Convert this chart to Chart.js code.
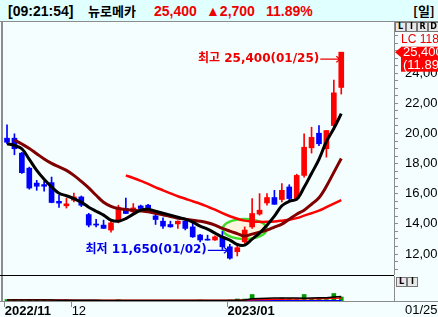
<!DOCTYPE html>
<html>
<head>
<meta charset="utf-8">
<script src="https://cdn.jsdelivr.net/npm/chart.js@4/dist/chart.umd.min.js"></script>
<style>
  body { margin: 0; background: #f5fefe; }
  #wrap { position: relative; width: 438px; height: 317px; overflow: hidden; background: #f5fefe; font-family: "Liberation Sans", Arial, sans-serif; }
  #title { position: absolute; left: 0; top: 0; width: 438px; height: 21px; background: #e0ffff; border-bottom: 1px solid #8c8c8c; }
  #title span { position: absolute; top: 3px; font: bold 14px "Liberation Sans", "DejaVu Sans", sans-serif; line-height: 16px; white-space: nowrap; }
  #title .red { color: #ee0000; }
  .abs { position: absolute; white-space: nowrap; }
  .btn { position: absolute; width: 9px; height: 8px; border: 1px solid #777; background: #e8e8e8; font: bold 8px "DejaVu Sans", sans-serif; line-height: 8px; text-align: center; color: #000; }
</style>
</head>
<body>
<div id="wrap">
  <div id="title">
    <span style="left:8px">[09:21:54]</span>
    <span style="left:88px;font-family:'Noto Sans CJK KR';font-size:13px">뉴로메카</span>
    <span class="red" style="left:154px">25,400</span>
    <span class="red" style="left:206px">▲2,700</span>
    <span class="red" style="left:266px">11.89%</span>
    <span style="left:413px;font-family:'Noto Sans CJK KR';font-size:13px">[일]</span>
  </div>

  <canvas id="price" class="abs" width="438" height="253" style="left:0;top:22px"></canvas>
  <canvas id="volume" class="abs" width="438" height="41" style="left:0;top:276px"></canvas>

  <div class="abs" style="left:1px;top:22px;width:2px;height:280px;background:#8c8c8c"></div>
  <div class="abs" style="left:0;top:275px;width:394px;height:1px;background:#000"></div>
  <div class="abs" style="left:0;top:301px;width:438px;height:1px;background:#8c8c8c"></div>

  <div class="btn" style="left:395px;top:22px">L</div>
  <div class="btn" style="left:406px;top:22px">I</div>
  <div class="btn" style="left:417px;top:22px">R</div>
  <div class="btn" style="left:428px;top:22px">D</div>
  <div class="abs" style="left:401px;top:33px;font-size:12px;line-height:13px;color:#ee0000">LC 118</div>

  <div class="btn" style="left:396px;top:277px">L</div>
  <div class="btn" style="left:407px;top:277px">I</div>
  <div class="abs" style="left:405px;top:303px;font-size:13px;line-height:14px;color:#000">01/25</div>
</div>

<script>
// 일봉 데이터 (2022/11/18 ~ 2023/01/25)
var dates = ['2022/11/18','2022/11/21','2022/11/22','2022/11/23','2022/11/24','2022/11/25','2022/11/28','2022/11/29','2022/11/30',
  '2022/12/01','2022/12/02','2022/12/05','2022/12/06','2022/12/07','2022/12/08','2022/12/09','2022/12/12','2022/12/13','2022/12/14',
  '2022/12/15','2022/12/16','2022/12/19','2022/12/20','2022/12/21','2022/12/22','2022/12/23','2022/12/26','2022/12/27','2022/12/28','2022/12/29',
  '2023/01/02','2023/01/03','2023/01/04','2023/01/05','2023/01/06','2023/01/09','2023/01/10','2023/01/11','2023/01/12','2023/01/13',
  '2023/01/16','2023/01/17','2023/01/18','2023/01/19','2023/01/20','2023/01/25'];

var open  = [19690,19690,18700,17700,16710,16610,16740,15500,15200, 15570,15790,14620,13990,13920,13590,14140,15020,14800,15190,
  15240,14530,14180,13960,14000,14180,13800,13260,12950,12930,13140, 12480,12150,12810,13800,14650,15390,15750,15620,16450,15680,
  17220,19050,20020,18990,20530,23060];
var high  = [20570,19980,18750,17770,16890,16850,17110,15900,15700, 16050,15850,14700,14310,14250,14170,15240,15720,15350,15250,
  15300,14800,14400,14180,14200,14250,14050,13300,13250,13200,13500, 12650,12660,13800,15680,16010,16010,16230,16670,16600,17300,
  19980,20420,20530,20200,23550,25400];
var low   = [19320,18590,17350,16300,16230,16170,15400,15100,15050, 15460,15150,13800,13800,13700,13450,14070,14690,14690,14920,
  14950,13960,13700,13780,13700,13600,13100,12800,12920,12900,12300, 11650,11870,12700,13700,14580,15240,15300,15460,15480,15570,
  17100,18700,19200,18430,20420,22620];
var close = [19420,18990,17400,16380,16500,16500,15420,15380,15330, 15790,15240,13920,13920,13700,14070,15090,14690,15060,15020,
  14960,14290,13850,13800,14180,13700,13140,12930,12920,13140,12480, 11720,12420,13590,14690,14910,15750,15300,16230,15680,17220,
  19090,19750,19320,20200,22700,25400];

// 이동평균선
var ma5  = [19317,19205,18987,18280,17552,16960,16450,16030,15870, 15680,15440,15110,14840,14580,14250,14180,14350,14645,14910,
  14975,14840,14710,14580,14445,14315,14115,13850,13650,13390,13124, 12925,12630,12595,12990,13390,13917,14510,15205,15500,15635,
  16430,17350,18280,19470,20330,21320];
var ma10 = [null,19570,19300,19007,18656,18310,18015,17780,17552, 17220,16825,16395,15900,15437,15170,15020,14955,14910,14860,
  14800,14710,14610,14480,14380,14315,14250,14180,14080,13917,13700, 13520,13355,13190,13320,13454,13586,13785,13983,14315,14645,
  14910,15305,15735,16495,17420,18345];
var ma20 = [null,null,null,null,null,null,null,null,null, null,null,null,null,null,null,null,17220,17045,16860,
  16660,16430,16230,16030,15835,15670,15500,15340,15140,14940,14710, 14510,14345,14215,14150,14135,14135,14160,14215,14280,14380,
  14545,14710,14875,15105,15340,15570];

// 거래량 (상대값)
var volume = [6,5,4,5,4,4,3,3,3, 3,2,3,2,2,2,5,2,2,2, 2,2,2,2,2,2,2,4,2,2,2, 4,8,8,26,8,6,6,12,8,6, 26,10,8,6,30,16];
var volMa5 = [4,4,4,4,4,4,4,3,3, 3,3,3,3,2,2,2,2,2,2, 2,2,2,2,2,2,2,2,2,2,2, 2,3,4,9,10,11,12,12,12,12, 11,12,13,13,16,18];
var volMa20 = [5,5,5,5,5,5,4,4,4, 3,3,3,3,3,3,3,3,3,3, 3,3,3,3,3,3,3,3,3,3,3, 3,3,4,5,6,6,7,7,8,8, 9,9,9,10,11,12];
var volBase = [null,null,null,null,null,null,null,null,null, 1,1,1,1,1,1,1,1,1,1, 1,1,1,1,1,1,1,1,1,1,1, 1,1,1,1,1,1,1,1,1,1, 1,1,1,1,1,1];

var yTicks = [12000, 14000, 16000, 18000, 20000, 22000, 24000];
var prevClose = 22700;
var ellipseAt = { index: 32, price: 13660 };

var X_MIN = -0.54, X_MAX = 52.1;
var UP = '#ff0000', DOWN = '#0000ff', AXIS = '#8c8c8c';

function fmt(v) { return v.toLocaleString('en-US'); }
function pts(arr) { return arr.map(function (v, i) { return { x: i, y: v }; }); }
function candleColor(i) { return close[i] > open[i] ? UP : DOWN; }

// 월 구분 틱
var monthTicks = [];
dates.forEach(function (d, i) {
  var p = d.split('/');
  if (i === 0 || p[1] !== dates[i - 1].split('/')[1]) {
    var yearChange = i === 0 || p[0] !== dates[i - 1].split('/')[0];
    monthTicks.push({ value: i - 0.3, label: yearChange ? p[0] + '/' + p[1] : String(+p[1]) });
  }
});

var annot = {
  id: 'annot',
  beforeDatasetsDraw: function (chart) {
    var ctx = chart.ctx, xs = chart.scales.x, ys = chart.scales.y;
    ctx.save();
    ctx.beginPath();
    ctx.ellipse(xs.getPixelForValue(ellipseAt.index), ys.getPixelForValue(ellipseAt.price), 22, 10, 0, 0, Math.PI * 2);
    ctx.fillStyle = 'rgba(255,243,220,0.9)';
    ctx.fill();
    ctx.lineWidth = 2.5;
    ctx.strokeStyle = '#3fdc2a';
    ctx.stroke();
    ctx.restore();
  },
  afterDraw: function (chart) {
    var ctx = chart.ctx, xs = chart.scales.x, ys = chart.scales.y, area = chart.chartArea;
    var hi = high.indexOf(Math.max.apply(null, high));
    var lo = low.indexOf(Math.min.apply(null, low));
    function mmdd(i) { var p = dates[i].split('/'); return p[1] + '/' + p[2]; }
    function label(text, color, tipX, y) {
      var startX = tipX - 20;
      ctx.fillStyle = color; ctx.strokeStyle = color;
      ctx.font = 'bold 12px "DejaVu Sans", "Noto Sans CJK KR"';
      ctx.textAlign = 'right'; ctx.textBaseline = 'middle';
      ctx.fillText(text, startX - 1, y);
      ctx.lineWidth = 1.2;
      ctx.beginPath();
      ctx.moveTo(startX, y); ctx.lineTo(tipX, y);
      ctx.moveTo(tipX - 4, y - 3); ctx.lineTo(tipX, y); ctx.lineTo(tipX - 4, y + 3);
      ctx.stroke();
    }
    ctx.save();
    label('최고 ' + fmt(high[hi]) + '(' + mmdd(hi) + ')', '#ee0000', xs.getPixelForValue(hi) - 1, ys.getPixelForValue(high[hi]) + 7);
    label('최저 ' + fmt(low[lo]) + '(' + mmdd(lo) + ')', '#0000ee', xs.getPixelForValue(lo) - 2, ys.getPixelForValue(low[lo]) - 9);

    // 현재가 표시
    var last = close.length - 1, py = ys.getPixelForValue(close[last]);
    var bx = area.right + 7;
    ctx.fillStyle = '#ff0000';
    ctx.beginPath();
    ctx.moveTo(area.right + 1, py); ctx.lineTo(bx, py - 5); ctx.lineTo(bx, py + 5); ctx.closePath();
    ctx.fill();
    ctx.fillRect(bx, py - 5.5, chart.width - bx, 25);
    ctx.fillStyle = '#ffffff';
    ctx.font = '13px "Liberation Sans"';
    ctx.textAlign = 'left'; ctx.textBaseline = 'middle';
    ctx.fillText(fmt(close[last]), bx + 2, py + 0.5);
    ctx.fillText('(' + ((close[last] - prevClose) / prevClose * 100).toFixed(2) + '%)', bx + 2, py + 13);
    ctx.restore();
  }
};

new Chart(document.getElementById('price'), {
  type: 'bar',
  data: {
    datasets: [
      { type: 'line', data: pts(ma5), borderColor: '#000000', borderWidth: 3, pointRadius: 0, tension: 0.35, order: 0 },
      { type: 'line', data: pts(ma10), borderColor: '#800000', borderWidth: 3, pointRadius: 0, tension: 0.35, order: 0 },
      { type: 'line', data: pts(ma20), borderColor: '#ff0000', borderWidth: 2.5, pointRadius: 0, tension: 0.35, order: 0 },
      {
        data: open.map(function (o, i) { return { x: i, y: [o, close[i]] }; }),
        backgroundColor: function (c) { return candleColor(c.dataIndex); },
        barThickness: 5, minBarLength: 1, grouped: false, order: 2
      },
      {
        data: low.map(function (l, i) { return { x: i, y: [l, high[i]] }; }),
        backgroundColor: function (c) { return candleColor(c.dataIndex); },
        barThickness: 1, grouped: false, order: 3
      }
    ]
  },
  options: {
    responsive: false,
    animation: false,
    layout: { padding: { left: 3, right: 0, top: 0, bottom: 0 } },
    plugins: { legend: { display: false }, tooltip: { enabled: false } },
    scales: {
      x: { type: 'linear', min: X_MIN, max: X_MAX, offset: false, display: false, grid: { offset: false } },
      y: {
        position: 'right',
        min: 10606, max: 27405,
        border: { color: AXIS },
        grid: { drawOnChartArea: false, drawTicks: true, tickLength: 4, color: AXIS },
        ticks: {
          autoSkip: false, padding: 7, color: '#000', font: { family: 'Liberation Sans', size: 13 },
          callback: function (v) { return yTicks.indexOf(v) >= 0 ? fmt(v) : ''; }
        },
        afterBuildTicks: function (s) {
          var t = [];
          for (var v = 11000; v <= 27000; v += 500) t.push({ value: v });
          s.ticks = t;
        },
        afterFit: function (s) { s.width = 44; s.paddingTop = 0; s.paddingBottom = 0; }
      }
    }
  },
  plugins: [annot]
});

new Chart(document.getElementById('volume'), {
  type: 'bar',
  data: {
    datasets: [
      { type: 'line', data: pts(volMa5), borderColor: '#000000', borderWidth: 1.5, pointRadius: 0, order: 0 },
      { type: 'line', data: pts(volMa20), borderColor: '#ff0000', borderWidth: 1.5, pointRadius: 0, order: 0 },
      { type: 'line', data: pts(volBase), borderColor: '#0000ff', borderWidth: 1.5, pointRadius: 0, order: 0 },
      { data: pts(volume), backgroundColor: '#009900', barThickness: 4, order: 1 }
    ]
  },
  options: {
    responsive: false,
    animation: false,
    layout: { padding: { left: 3, right: 0, top: 0, bottom: 0 } },
    plugins: { legend: { display: false }, tooltip: { enabled: false } },
    scales: {
      x: {
        type: 'linear', min: X_MIN, max: X_MAX, offset: false,
        border: { display: false },
        grid: { offset: false, drawOnChartArea: false, drawTicks: true, tickLength: 6, color: AXIS },
        ticks: {
          autoSkip: false, maxRotation: 0, align: 'start', padding: -3, color: '#000',
          font: function (c) {
            var bold = c.tick && String(c.tick.label).indexOf('/') >= 0;
            return { family: 'Liberation Sans', size: 13, weight: bold ? 'bold' : 'normal' };
          },
          callback: function (v) {
            for (var k = 0; k < monthTicks.length; k++) if (Math.abs(monthTicks[k].value - v) < 1e-6) return monthTicks[k].label;
            return '';
          }
        },
        afterBuildTicks: function (s) { s.ticks = monthTicks.map(function (t) { return { value: t.value }; }); },
        afterFit: function (s) { s.height = 16; s.paddingLeft = 0; s.paddingRight = 0; }
      },
      y: {
        position: 'right', min: 0, max: 100,
        border: { color: AXIS },
        grid: { display: false },
        ticks: { display: false },
        afterFit: function (s) { s.width = 44; s.paddingTop = 0; s.paddingBottom = 0; }
      }
    }
  }
});
</script>
</body>
</html>
